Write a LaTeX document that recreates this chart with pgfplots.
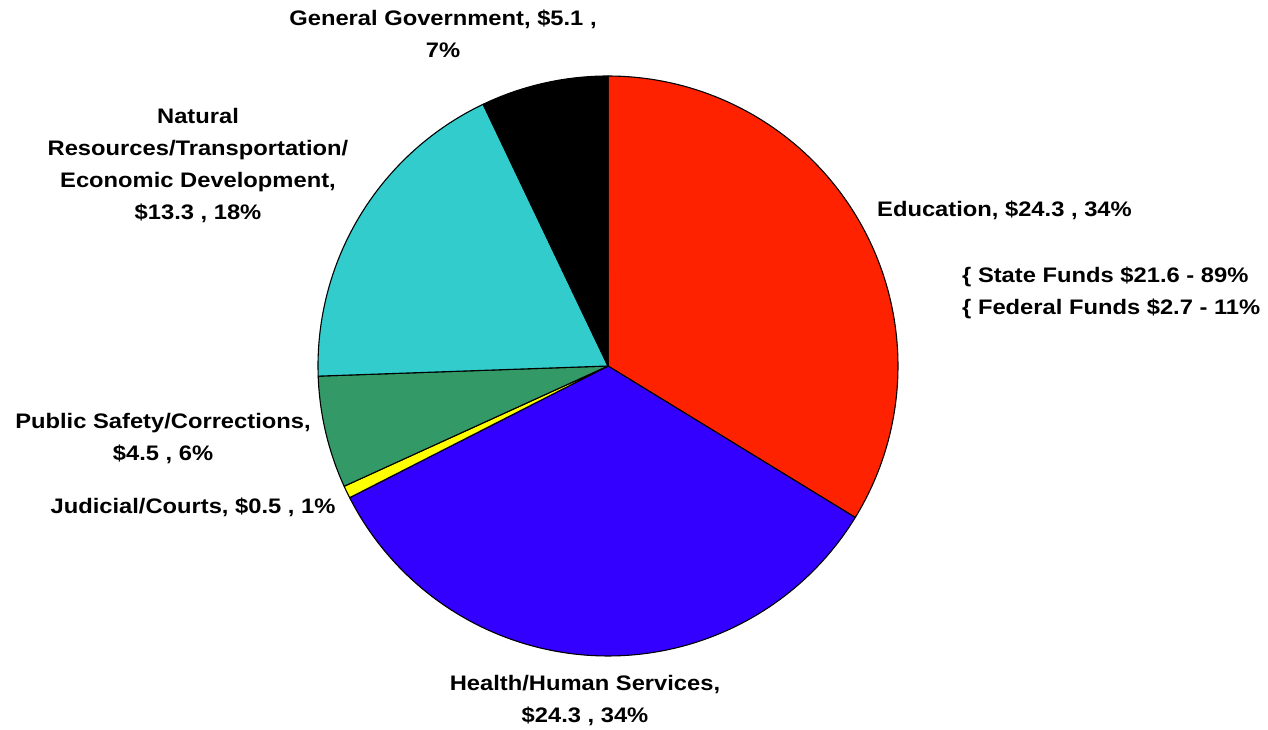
\documentclass[border=0pt]{standalone}
\usepackage{pgfplots}
\pgfplotsset{compat=1.18}
\usepackage{fontspec}
\setmainfont{Liberation Sans}[FakeStretch=1.13]

\definecolor{edu}{HTML}{FF2200}
\definecolor{hhs}{HTML}{3300FF}
\definecolor{jud}{HTML}{FFFF00}
\definecolor{pub}{HTML}{339966}
\definecolor{nat}{HTML}{33CCCC}
\definecolor{gen}{HTML}{000000}

% spending, $ billions
\def\vEdu{24.3}
\def\vHhs{24.3}
\def\vJud{0.5}
\def\vPub{4.5}
\def\vNat{13.3}
\def\vGen{5.1}

\begin{document}
\begin{tikzpicture}
\pgfmathsetmacro\tot{\vEdu+\vHhs+\vJud+\vPub+\vNat+\vGen}
\pgfmathsetmacro\aA{90}
\pgfmathsetmacro\aB{\aA-\vEdu/\tot*360}
\pgfmathsetmacro\aC{\aB-\vHhs/\tot*360}
\pgfmathsetmacro\aD{\aC-\vJud/\tot*360}
\pgfmathsetmacro\aE{\aD-\vPub/\tot*360}
\pgfmathsetmacro\aF{\aE-\vNat/\tot*360}
\pgfmathsetmacro\aG{\aF-\vGen/\tot*360}
\begin{axis}[name=ax,hide axis,scale only axis,width=1268pt,height=730pt,
  xmin=0,xmax=1268,ymin=0,ymax=730,clip=false,
  every axis plot/.append style={draw=black,line width=1.1pt,samples=90,line join=round}]
\addplot[fill=edu,domain=\aA:\aB] ({608+290*cos(x)},{364+290*sin(x)}) -- (axis cs:608,364) -- cycle;
\addplot[fill=hhs,domain=\aB:\aC] ({608+290*cos(x)},{364+290*sin(x)}) -- (axis cs:608,364) -- cycle;
\addplot[fill=jud,domain=\aC:\aD,samples=10] ({608+290*cos(x)},{364+290*sin(x)}) -- (axis cs:608,364) -- cycle;
\addplot[fill=pub,domain=\aD:\aE] ({608+290*cos(x)},{364+290*sin(x)}) -- (axis cs:608,364) -- cycle;
\addplot[fill=nat,domain=\aE:\aF] ({608+290*cos(x)},{364+290*sin(x)}) -- (axis cs:608,364) -- cycle;
\addplot[fill=gen,domain=\aF:\aG] ({608+290*cos(x)},{364+290*sin(x)}) -- (axis cs:608,364) -- cycle;

\tikzset{lbl/.style={font=\fontsize{21}{32}\selectfont\bfseries,align=center,inner sep=0pt}}
\node[lbl] at (axis cs:443,696) {General Government, \$5.1 ,\\7\%};
\node[lbl] at (axis cs:198,564) {Natural\\Resources/Transportation/\\Economic Development,\\\$13.3 , 18\%};
\node[lbl,anchor=west] at (axis cs:877,520) {Education, \$24.3 , 34\%};
\node[lbl,anchor=west,align=left] at (axis cs:962,437) {\{ State Funds \$21.6 - 89\%\\\{ Federal Funds \$2.7 - 11\%};
\node[lbl] at (axis cs:163,291) {Public Safety/Corrections,\\\$4.5 , 6\%};
\node[lbl] at (axis cs:193,223) {Judicial/Courts, \$0.5 , 1\%};
\node[lbl] at (axis cs:585,29) {Health/Human Services,\\\$24.3 , 34\%};
\end{axis}
\pgfresetboundingbox
\path (ax.south west) rectangle (ax.north east);
\end{tikzpicture}
\end{document}
